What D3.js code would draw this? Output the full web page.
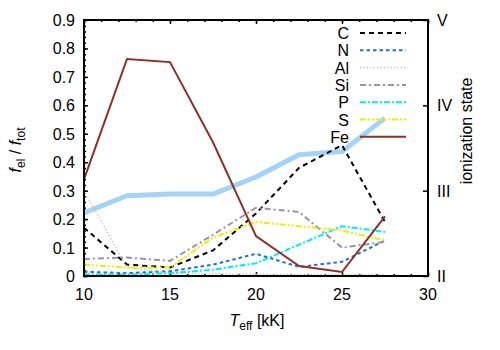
<!DOCTYPE html>
<html>
<head>
<meta charset="utf-8">
<script src="https://cdn.jsdelivr.net/npm/d3@7"></script>
<style>
  body { margin: 0; background: #fff; }
  svg text { font-family: "Liberation Sans", Arial, sans-serif; font-size: 16px; fill: #000; }
</style>
</head>
<body>
<div id="chart"></div>
<script>
// effective temperature grid, kK
var teff = [10, 12.5, 15, 17.5, 20, 22.5, 25, 27.5];

// element fractions f_el / f_tot
var elements = ["C", "N", "Al", "Si", "P", "S", "Fe"];
var fracC  = [0.17, 0.04, 0.03, 0.09, 0.22, 0.38, 0.46, 0.19];
var fracN  = [0.015, 0.01, 0.017, 0.04, 0.078, 0.032, 0.05, 0.125];
var fracAl = [0.30, 0.03, 0.01, 0.008, 0.006, 0.005, 0.005, 0.005];
var fracSi = [0.06, 0.065, 0.053, 0.145, 0.24, 0.225, 0.10, 0.12];
var fracP  = [0.005, 0.005, 0.01, 0.022, 0.045, 0.11, 0.175, 0.155];
var fracS  = [0.04, 0.03, 0.03, 0.135, 0.19, 0.175, 0.16, 0.125];
var fracFe = [0.34, 0.763, 0.752, 0.47, 0.14, 0.035, 0.014, 0.21];

// mean ionization state (right axis)
var ionState = [2.74, 2.94, 2.96, 2.96, 3.16, 3.42, 3.46, 3.85];
var ionLabels = ["II", "III", "IV", "V"];

var width = 500, height = 350;
var pLeft = 84, pRight = 428, pTop = 20, pBottom = 276;

var svg = d3.select("#chart").append("svg")
    .attr("width", width).attr("height", height);

var x = d3.scaleLinear().domain([10, 30]).range([pLeft, pRight]);
var y = d3.scaleLinear().domain([0, 0.9]).range([pBottom, pTop]);
var y2 = d3.scaleLinear().domain([2, 5]).range([pBottom, pTop]);

var styles = {
  C:  {color: "#000000", dash: "5,4", w: 2},
  N:  {color: "#1f6fdc", dash: "3.5,3", w: 2},
  Al: {color: "#bdbdbd", dash: "1.2,2.2", w: 1.5},
  Si: {color: "#9a92b4", dash: "6,3,2,3", w: 2},
  P:  {color: "#00eeee", dash: "6,2,2,2", w: 2},
  S:  {color: "#eeee00", dash: "6,2,2,2,2,2", w: 2},
  Fe: {color: "#8f2f27", dash: null, w: 2}
};
var series = {C: fracC, N: fracN, Al: fracAl, Si: fracSi, P: fracP, S: fracS, Fe: fracFe};

// axes (ticks inward)
function inward(g) { g.select(".domain").remove(); g.selectAll("text").remove(); }

svg.append("g").attr("transform", "translate(0," + pBottom + ")")
    .call(d3.axisTop(x).tickValues(d3.range(10, 31, 1)).tickSize(2)).call(inward);
svg.append("g").attr("transform", "translate(0," + pBottom + ")")
    .call(d3.axisTop(x).tickValues(d3.range(10, 31, 5)).tickSize(4)).call(inward);
svg.append("g").attr("transform", "translate(0," + pTop + ")")
    .call(d3.axisBottom(x).tickValues(d3.range(10, 31, 1)).tickSize(2)).call(inward);
svg.append("g").attr("transform", "translate(0," + pTop + ")")
    .call(d3.axisBottom(x).tickValues(d3.range(10, 31, 5)).tickSize(4)).call(inward);
svg.append("g").attr("transform", "translate(" + pLeft + ",0)")
    .call(d3.axisRight(y).tickValues(d3.range(0, 0.901, 0.02)).tickSize(2)).call(inward);
svg.append("g").attr("transform", "translate(" + pLeft + ",0)")
    .call(d3.axisRight(y).tickValues(d3.range(0, 0.901, 0.1)).tickSize(4)).call(inward);
svg.append("g").attr("transform", "translate(" + pRight + ",0)")
    .call(d3.axisLeft(y2).tickValues([2, 3, 4, 5]).tickSize(5)).call(inward);
svg.selectAll("g line").attr("stroke", "#000").attr("stroke-width", 1.5);

// tick labels
svg.append("g").selectAll("text").data(d3.range(0, 0.901, 0.1)).join("text")
    .attr("x", pLeft - 9).attr("y", function(d) { return y(d) + 6; })
    .attr("text-anchor", "end")
    .text(function(d) { return d === 0 ? "0" : d3.format(".1f")(d); });
svg.append("g").selectAll("text").data(d3.range(10, 31, 5)).join("text")
    .attr("x", function(d) { return x(d); }).attr("y", pBottom + 24)
    .attr("text-anchor", "middle").text(function(d) { return d; });
svg.append("g").selectAll("text").data(ionLabels).join("text")
    .attr("x", pRight + 9).attr("y", function(d, i) { return y2(i + 2) + 6; })
    .text(function(d) { return d; });

// data lines
svg.append("clipPath").attr("id", "clip").append("rect")
    .attr("x", pLeft).attr("y", pTop).attr("width", pRight - pLeft).attr("height", pBottom - pTop);
var plot = svg.append("g").attr("clip-path", "url(#clip)");

plot.append("path")
    .datum(ionState)
    .attr("d", d3.line().x(function(d, i) { return x(teff[i]); }).y(function(d) { return y2(d); }))
    .attr("fill", "none").attr("stroke", "#a3d3f7").attr("stroke-width", 5)
    .attr("stroke-linejoin", "round");

elements.forEach(function(el) {
  var s = styles[el];
  plot.append("path")
      .datum(series[el])
      .attr("d", d3.line().x(function(d, i) { return x(teff[i]); }).y(function(d) { return y(d); }))
      .attr("fill", "none").attr("stroke", s.color).attr("stroke-width", s.w)
      .attr("stroke-dasharray", s.dash);
});

// legend
var leg = svg.append("g");
elements.forEach(function(el, i) {
  var s = styles[el];
  var ly = 33 + i * 17.3;
  leg.append("text").attr("x", 349).attr("y", ly + 6).attr("text-anchor", "end").text(el);
  leg.append("line").attr("x1", 360).attr("x2", 406).attr("y1", ly).attr("y2", ly)
      .attr("stroke", s.color).attr("stroke-width", s.w).attr("stroke-dasharray", s.dash);
});

// frame
svg.append("rect").attr("x", pLeft).attr("y", pTop)
    .attr("width", pRight - pLeft).attr("height", pBottom - pTop)
    .attr("fill", "none").attr("stroke", "#000").attr("stroke-width", 2);

// axis titles
var xt = svg.append("text").attr("x", 257).attr("y", 326).attr("text-anchor", "middle");
xt.append("tspan").attr("font-style", "italic").text("T");
xt.append("tspan").attr("dy", 4).attr("font-size", "12px").text("eff");
xt.append("tspan").attr("dy", -4).text(" [kK]");

var yt = svg.append("text").attr("transform", "translate(21,150) rotate(-90)").attr("text-anchor", "middle");
yt.append("tspan").attr("font-style", "italic").text("f");
yt.append("tspan").attr("dy", 4).attr("font-size", "12px").text("el");
yt.append("tspan").attr("dy", -4).text(" / ");
yt.append("tspan").attr("font-style", "italic").text("f");
yt.append("tspan").attr("dy", 4).attr("font-size", "12px").text("tot");

svg.append("text").attr("transform", "translate(472,131) rotate(-90)")
    .attr("text-anchor", "middle").text("ionization state");
</script>
</body>
</html>
